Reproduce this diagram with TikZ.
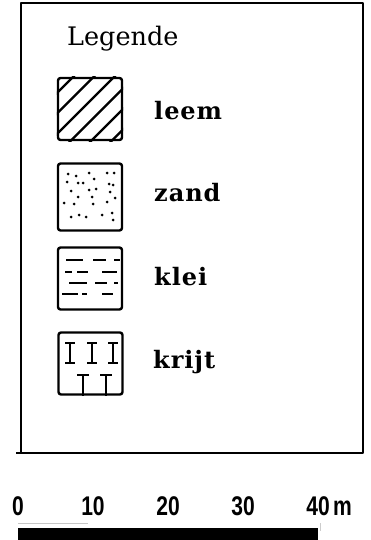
\documentclass[tikz,border=0pt]{standalone}
\usepackage{fontspec}
\setmainfont{DejaVu Serif}
\newfontfamily\labelfont{DejaVu Serif}[LetterSpace=4]
\newfontfamily\scalebarfont{Liberation Sans}[FakeStretch=0.78]
\usetikzlibrary{positioning}

\tikzset{
    legendbox/.style={draw, line width=2.4pt, rounded corners=2.5pt, inner sep=0pt,
      minimum width=64pt, minimum height=62pt},
    legendlabel/.style={anchor=base west, inner sep=0pt,
      font=\labelfont\fontsize{24}{28}\selectfont\bfseries},
    scalenum/.style={anchor=base, inner sep=0pt,
      font=\scalebarfont\fontsize{27}{30}\selectfont\bfseries},
    hatchline/.style={line width=2.2pt},
    claydash/.style={line width=2.3pt},
    chalkmark/.style={line width=2.6pt}
}

\begin{document}
\begin{tikzpicture}[x=1pt, y=-1pt, line join=round]
    \useasboundingbox (0,0) rectangle (371,540);

    % kader
    \draw[line width=2.2pt] (21,3) rectangle (363,453);
    \draw[line width=2.2pt] (16,453) -- (21,453);

    \node[anchor=base west, inner sep=0pt, font=\fontsize{25.5}{30}\selectfont]
      (title) at (67,46) {Legende};

    % leem
    \node[legendbox] (leemBox) at (90,109) {};
    \begin{scope}
      \clip (leemBox.south west) rectangle (leemBox.north east);
      \foreach \c in {150,170.5,191,211.5,232,252.5}
        \draw[hatchline] (\c-200,200) -- (\c,0);
    \end{scope}
    \node[legendlabel] (leemLabel) at (154,120) {leem};

    % zand
    \node[legendbox, minimum height=67pt] (zandBox) at (90,197) {};
    \foreach \p in {(68,174),(76,176),(89,173),(107,173),(114,173),
                    (67,182),(78,183),(83,183),(94,179),(109,184),(113,185),
                    (71,191),(89,190),(96,189),(110,192),
                    (78,197),(92,197),(115,198),
                    (64,203),(74,204),(93,204),(107,202),
                    (71,217),(79,215),(86,217),(102,215),(112,213),(113,220)}
      \fill \p circle (1.5pt);
    \node[legendlabel] (zandLabel) at (154,201) {zand};

    % klei
    \node[legendbox] (kleiBox) at (90,278.5) {};
    \foreach \y/\xa/\xb in {260/66/83, 260/93/106, 260/114/120,
                            272/65/72, 272/77/88, 272/102/117,
                            283/69/87, 283/95/107, 283/114/118,
                            294/62/78, 294/82/87, 294/102/113}
      \draw[claydash] (\xa,\y) -- (\xb,\y);
    \node[legendlabel] (kleiLabel) at (154,285) {klei};

    % krijt
    \node[legendbox] (krijtBox) at (90.5,363.5) {};
    \foreach \x in {70,92,113}
      \draw[chalkmark] (\x-5,343) -- (\x+5,343)
                       (\x,343) -- (\x,363)
                       (\x-5,363) -- (\x+5,363);
    \foreach \x in {83,106}
      \draw[chalkmark] (\x-6,375) -- (\x+6,375)
                       (\x,375) -- (krijtBox.south -| \x,0);
    \node[legendlabel] (krijtLabel) at (153,368) {krijt};

    % schaalbalk
    \fill (18,528) rectangle (318,540);
    \draw[gray!45, line width=0.6pt] (18,523) -- (88,523);
    \draw[gray!40, line width=0.6pt] (320,523) -- (320,531);
    \foreach \v [count=\i from 0] in {0,10,20,30,40}
      \node[scalenum] (n\v) at (18+75*\i,515) {\v};
    \node[scalenum, base right=3pt of n40] (unit) {m};
\end{tikzpicture}
\end{document}
